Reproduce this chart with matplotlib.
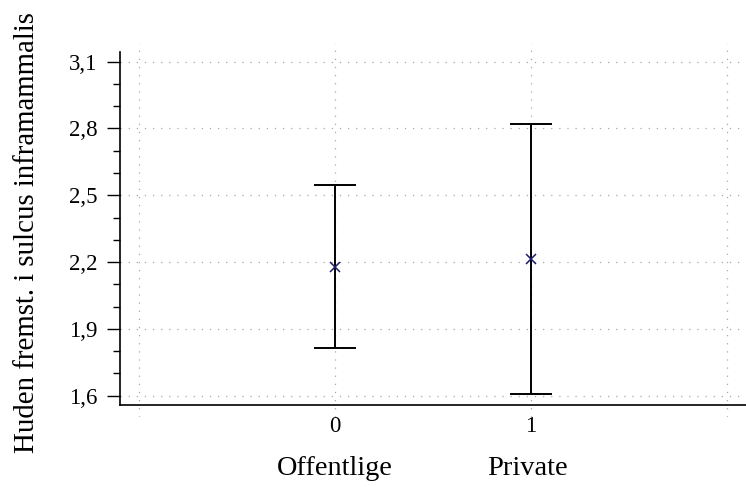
import matplotlib
matplotlib.use("Agg")
import matplotlib.pyplot as plt
import matplotlib.transforms as mtransforms
from matplotlib.ticker import FixedLocator
import numpy as np

# Mean and confidence interval per sector
groups = [0, 1]
group_names = ["Offentlige", "Private"]
means = [2.179, 2.215]
ci_low = [1.813, 1.608]
ci_high = [2.546, 2.820]

y_major = [1.6, 1.9, 2.2, 2.5, 2.8, 3.1]
y_major_labels = ["1,6", "1,9", "2,2", "2,5", "2,8", "3,1"]
x_grid = [-1, 0, 1, 2]
x_grid_labels = ["", "0", "1", ""]

plt.rcParams["font.family"] = ["Liberation Serif", "DejaVu Serif"]

fig = plt.figure(figsize=(7.46, 4.87), dpi=100)
ax = fig.add_axes([0.1609, 0.1437, 0.8391, 0.768])

means_a = np.array(means)
yerr = np.vstack([means_a - np.array(ci_low), np.array(ci_high) - means_a])
ax.errorbar(groups, means, yerr=yerr, fmt="none", ecolor="black",
            elinewidth=1.4, capsize=15, capthick=1.4, zorder=3)
ax.plot(groups, means, linestyle="none", marker="x", markersize=7,
        markeredgewidth=1.1, color="#1c1c6e", zorder=4)

ax.set_xlim(-1.097, 2.097)
ax.set_ylim(1.504, 3.184)

ax.set_yticks(y_major)
ax.set_yticklabels(y_major_labels)
ax.yaxis.set_minor_locator(FixedLocator(
    [v for v in np.round(np.arange(1.6, 3.11, 0.1), 2) if v not in y_major]))
ax.set_xticks(x_grid)
ax.set_xticklabels(x_grid_labels)

ax.tick_params(axis="y", which="major", length=9.4, width=1, labelsize=16.5, pad=7)
ax.tick_params(axis="y", which="minor", length=5, width=1)
ax.tick_params(axis="x", which="major", length=0, labelsize=16.5, pad=8)

grid_style = dict(color="#a8a8a8", linestyle=(0, (1, 5.5)), linewidth=0.9)
ax.grid(True, which="major", axis="both", **grid_style)
ax.set_axisbelow(True)

for side in ("top", "right"):
    ax.spines[side].set_visible(False)
ax.spines["bottom"].set_position(("data", 1.558))
ax.spines["left"].set_bounds(1.558, 3.143)
ax.spines["left"].set_linewidth(1.2)
ax.spines["bottom"].set_linewidth(1.2)

ax.set_ylabel("Huden fremst. i sulcus inframammalis", fontsize=20.8)
ax.yaxis.set_label_coords(-0.149, 0.492)
ax.yaxis.label.set_va("center")

trans = mtransforms.blended_transform_factory(ax.transData, fig.transFigure)
for gx, name, dx in zip(groups, group_names, [0.0, -0.02]):
    ax.text(gx + dx, 0.039, name, transform=trans, ha="center", va="center",
            fontsize=20.4)

fig.savefig("out.png", dpi=100)
